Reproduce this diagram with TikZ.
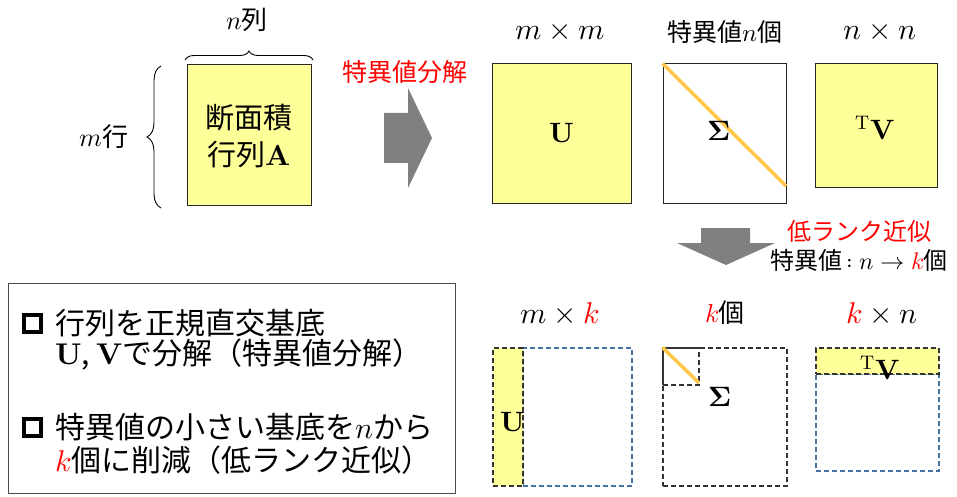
\documentclass[tikz,border=0pt]{standalone}
\usepackage{fontspec}
\usepackage{unicode-math}
\setmainfont{Noto Sans CJK JP}
\setmathfont{Latin Modern Math}
\setmathrm{Latin Modern Roman}
\usetikzlibrary{decorations.pathreplacing}
\definecolor{myyellow}{RGB}{255,255,153}
\definecolor{myorange}{RGB}{255,200,72}
\definecolor{myblue}{RGB}{70,114,166}
\definecolor{mygray}{RGB}{128,128,128}
\newcommand{\fsz}[1]{\fontsize{#1}{#1}\selectfont}
\begin{document}
\begin{tikzpicture}[x=1pt,y=-1pt,
  ybox/.style={draw=black!85,fill=myyellow,line width=1pt,inner sep=0pt},
  wbox/.style={draw=black!85,fill=white,line width=1pt,inner sep=0pt},
  lbl/.style={inner sep=0pt,font=\fsz{30}},
  big/.style={inner sep=0pt,font=\fsz{28}},
  kdash/.style={draw=black!80,line width=1.1pt,dash pattern=on 5pt off 3pt},
  bdash/.style={draw=myblue,line width=1.1pt,dash pattern=on 5pt off 3pt},
  diag/.style={draw=myorange,line width=3.5pt},
  garrow/.style={fill=mygray,draw=none},
  txt/.style={inner sep=0pt,anchor=west,font=\fsz{30}},
  bul/.style={draw=black,line width=4pt,minimum size=17pt,inner sep=0pt}]
\useasboundingbox (0,0) rectangle (957,497);
% --- matrix A ---
\node[ybox,minimum width=124pt,minimum height=140pt] (A) at (249,135) {};
\node[inner sep=0pt,align=center,font=\fsz{29}] (At) at (249,136) {断面積\\[8pt]行列$\symbf{A}$};
\node[lbl,font=\fsz{26}] (ncol) at (247,20) {$n$列};
\node[lbl,font=\fsz{26}] (mrow) at (104,137) {$m$行};
\draw[line width=0.9pt,decorate,decoration={brace,amplitude=9pt}] (185,60) -- (313,60);
\draw[line width=0.9pt,decorate,decoration={brace,amplitude=14pt}] (161,208) -- (161,66);
% --- big right arrow ---
\fill[garrow] (384,113) -- (408,113) -- (408,88) -- (432,138) -- (408,188) -- (408,163) -- (384,163) -- cycle;
\node[lbl,font=\fsz{25},text=red] (svd) at (405,72) {特異値分解};
% --- top row ---
\node[lbl] (l1) at (560,32) {$m\times m$};
\node[lbl,font=\fsz{25}] (l2) at (725,32) {特異値$n$個};
\node[lbl] (l3) at (880,32) {$n\times n$};
\node[ybox,minimum width=139pt,minimum height=139pt] (U) at (561.5,133.5) {};
\node[big] at (U.center) {$\symbf{U}$};
\node[wbox,minimum width=123pt,minimum height=139pt] (S) at (724.5,133.5) {};
\coordinate (Sd) at (786,186);
\draw[diag] (S.north west) -- (Sd);
\node[big] (Sl) at (719,131) {$\symbf{\Sigma}$};
\node[ybox,minimum width=122pt,minimum height=123pt] (V) at (876,125.5) {};
\node[big] (Vl) at (875,128) {${}^{\symup{T}}\symbf{V}$};
% --- down arrow ---
\fill[garrow] (701,228) -- (750,228) -- (750,243) -- (775,243) -- (726,265) -- (677,243) -- (701,243) -- cycle;
\node[lbl,font=\fsz{24},text=red] (lr) at (859,232) {低ランク近似};
\node[lbl,font=\fsz{24}] (nk) at (859,260) {特異値$\,:n\rightarrow \textcolor{red}{k}$個};
% --- bottom row ---
\node[lbl] (b1) at (560,313) {$m\times \textcolor{red}{k}$};
\node[lbl,font=\fsz{26}] (b2) at (725,313) {$\textcolor{red}{k}$個};
\node[lbl] (b3) at (882,313) {$\textcolor{red}{k}\times n$};
% U_k
\node[bdash,minimum width=109pt,minimum height=138pt,inner sep=0pt] (Ur) at (577.5,417) {};
\node[kdash,fill=myyellow,minimum width=30pt,minimum height=138pt,inner sep=0pt] (Uk) at (508,417) {};
\node[big] (Ukl) at (513,422) {$\symbf{U}$};
% Sigma_k
\node[kdash,minimum width=124pt,minimum height=138pt,inner sep=0pt] (Sk) at (725,417) {};
\node[kdash,minimum width=36pt,minimum height=37pt,inner sep=0pt] (Ss) at (681,366.5) {};
\coordinate (Ssd) at (699,383);
\draw[diag] (Ss.north west) -- (Ssd);
\node[big] (Skl) at (720,397) {$\symbf{\Sigma}$};
% V_k
\node[bdash,minimum width=123pt,minimum height=97pt,inner sep=0pt] (Vr) at (877.5,422.5) {};
\node[kdash,fill=myyellow,minimum width=123pt,minimum height=26pt,inner sep=0pt] (Vk) at (877.5,361) {};
\node[big] (Vkl) at (880,368) {${}^{\symup{T}}\symbf{V}$};
% --- text box ---
\node[draw=black!70,line width=0.9pt,minimum width=447pt,minimum height=210pt,inner sep=0pt] (box) at (231.5,388) {};
\node[bul] (b1q) at (32.5,323) {};
\node[txt] (t1) at (55,323) {行列を正規直交基底};
\node[txt] (t2) at (55,355) {$\symbf{U}$, $\symbf{V}$で分解（特異値分解）};
\node[bul] (b2q) at (32.5,427) {};
\node[txt] (t3) at (55,427) {特異値の小さい基底を$n$から};
\node[txt] (t4) at (55,460) {$\textcolor{red}{k}$個に削減（低ランク近似）};
\end{tikzpicture}
\end{document}
